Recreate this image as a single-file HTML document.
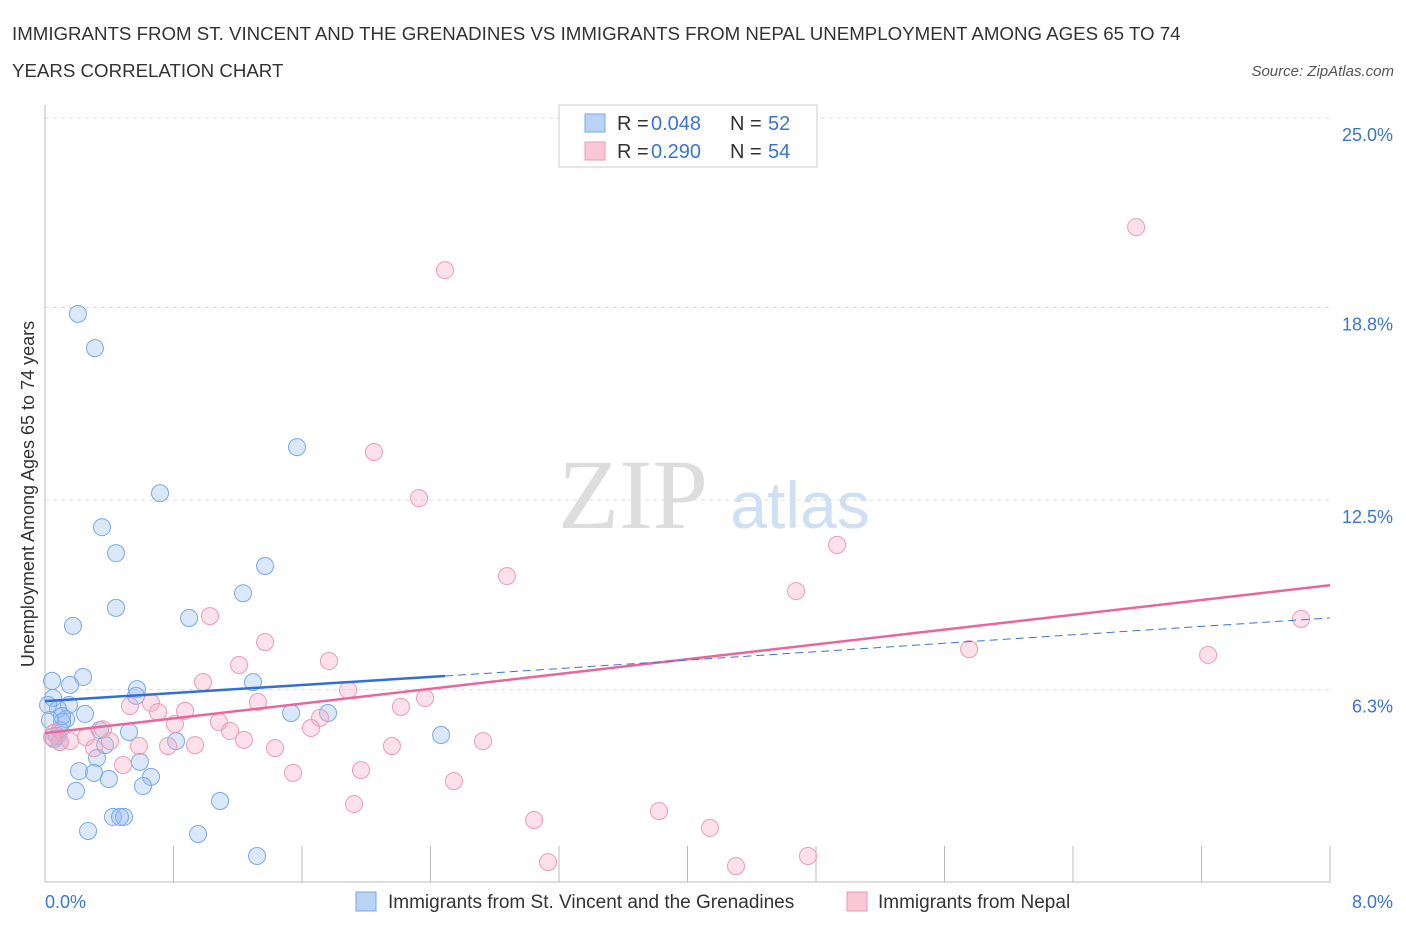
<!DOCTYPE html>
<html><head><meta charset="utf-8"><style>
body{margin:0;background:#fff;font-family:"Liberation Sans",sans-serif;}
</style></head><body>
<svg id="chart" width="1406" height="930" font-family="Liberation Sans, sans-serif">
<text x="12" y="40" font-size="18.7" fill="#333">IMMIGRANTS FROM ST. VINCENT AND THE GRENADINES VS IMMIGRANTS FROM NEPAL UNEMPLOYMENT AMONG AGES 65 TO 74</text>
<text x="12" y="77" font-size="18.7" fill="#333">YEARS CORRELATION CHART</text>
<text x="1394" y="76" font-size="15" fill="#555" font-style="italic" text-anchor="end">Source: ZipAtlas.com</text>
<text x="633" y="528" font-size="100" fill="#ddd" style="font-family:'Liberation Serif',serif" text-anchor="middle">ZIP</text>
<text x="800" y="528" font-size="66" fill="#cfe0f5" text-anchor="middle">atlas</text>
<text transform="translate(34,494) rotate(-90)" font-size="18" fill="#333" text-anchor="middle">Unemployment Among Ages 65 to 74 years</text>
<g id="grid"></g><g id="marks"></g>
<g>
<rect x="559" y="105" width="258" height="62" fill="#fff" stroke="#ccc"/>
<rect x="585" y="114" width="20" height="18" fill="#b9d3f5" stroke="#7aa8e8"/>
<rect x="585" y="142" width="20" height="18" fill="#f9c6d6" stroke="#ee9ab5"/>
<text x="617" y="130" font-size="20" fill="#333">R =</text>
<text x="651" y="130" font-size="20" fill="#3b74d1">0.048</text>
<text x="730" y="130" font-size="20" fill="#333">N =</text>
<text x="768" y="130" font-size="20" fill="#3b74d1">52</text>
<text x="617" y="158" font-size="20" fill="#333">R =</text>
<text x="651" y="158" font-size="20" fill="#3b74d1">0.290</text>
<text x="730" y="158" font-size="20" fill="#333">N =</text>
<text x="768" y="158" font-size="20" fill="#3b74d1">54</text>
</g>
<g>
<rect x="356" y="892" width="20" height="19" fill="#b9d3f5" stroke="#7aa8e8"/>
<text x="388" y="908" font-size="19" fill="#333">Immigrants from St. Vincent and the Grenadines</text>
<rect x="847" y="892" width="20" height="19" fill="#f9c6d6" stroke="#ee9ab5"/>
<text x="878" y="908" font-size="19" fill="#333">Immigrants from Nepal</text>
</g>
</svg>
<script>
const yTicks=[25.0,18.8,12.5,6.3];
const yTickLabels=["25.0%","18.8%","12.5%","6.3%"];
const xTickLabels=["0.0%","8.0%"];
const blueX=[0.205,0.311,1.569,0.716,0.355,0.442,1.370,1.233,0.442,0.897,0.174,0.237,0.044,0.156,0.573,1.295,0.050,0.567,0.149,0.081,0.249,0.131,0.106,1.532,1.762,0.093,0.342,0.523,0.075,0.056,0.093,0.374,0.816,2.466,0.324,0.591,0.212,0.305,0.660,0.398,0.610,0.193,1.090,0.423,0.492,0.467,0.268,0.953,1.320,0.019,0.031,0.106];
const blueY=[18.59,17.47,14.23,12.72,11.61,10.76,10.34,9.45,8.97,8.64,8.38,6.71,6.58,6.45,6.31,6.54,6.02,6.09,5.79,5.66,5.50,5.33,5.24,5.53,5.53,4.97,4.97,4.91,4.78,4.68,4.58,4.48,4.61,4.81,4.06,3.93,3.63,3.57,3.44,3.37,3.14,2.98,2.65,2.13,2.13,2.13,1.67,1.57,0.85,5.79,5.30,5.43];
const pinkX=[6.793,2.490,2.048,2.329,4.931,2.876,4.676,1.027,7.820,1.370,5.753,7.241,1.208,1.768,0.984,1.887,2.366,0.529,0.660,0.704,0.872,1.326,2.216,1.083,0.809,1.712,1.656,0.361,0.056,1.152,0.255,0.093,1.239,0.156,0.305,0.405,0.585,0.766,0.934,1.432,2.160,2.727,0.486,1.544,1.967,2.546,1.924,3.823,3.045,4.140,3.132,4.302,4.750,0.044];
const pinkY=[21.43,20.02,14.07,12.56,11.03,10.01,9.52,8.70,8.61,7.85,7.62,7.43,7.10,7.23,6.54,6.28,6.02,5.76,5.86,5.56,5.60,5.89,5.73,5.24,5.17,5.37,5.04,5.00,4.88,4.94,4.74,4.58,4.65,4.61,4.38,4.61,4.45,4.45,4.48,4.38,4.45,4.61,3.83,3.57,3.66,3.30,2.55,2.32,2.03,1.77,0.65,0.52,0.85,4.74];
const blueTrend=[5.92,6.74,8.64]; // at x=0, 2.49, 8
const pinkTrend=[4.87,9.71]; // at x=0, 8
const X=v=>45+v/8*1285, Y=v=>882-v*30.56;
const NS="http://www.w3.org/2000/svg";
const grid=document.getElementById('grid'), marks=document.getElementById('marks');
function mk(tag,attrs,parent){const e=document.createElementNS(NS,tag);for(const k in attrs)e.setAttribute(k,attrs[k]);parent.appendChild(e);return e;}
yTicks.forEach((t,i)=>{
 const l=mk('line',{x1:45,x2:1330,y1:Y(t),y2:Y(t),stroke:'#ddd','stroke-dasharray':'4,4'},grid);
 
 
 const tx=mk('text',{x:1393,y:Y(t)+23,'font-size':18,fill:'#3b74d1','text-anchor':'end'},grid);
 tx.textContent=yTickLabels[i];
 
 
});
const ax=mk('line',{x1:45,x2:1330,y1:882,y2:882,stroke:'#bbb'},grid);


const ay=mk('line',{x1:45,x2:45,y1:105,y2:882,stroke:'#bbb'},grid);


for(let i=0;i<=10;i++){
 const tk=mk('line',{x1:X(i*0.8),x2:X(i*0.8),y1:846,y2:882,stroke:'#bbb'},grid);
 
 
}
[[0,45,'start'],[1,1393,'end']].forEach(([i,x,a])=>{
 const t=mk('text',{x:x,y:908,'font-size':18,fill:'#3b74d1','text-anchor':a},grid);
 t.textContent=xTickLabels[i];
 
 
});
blueX.forEach((v,i)=>{
 const c=mk('circle',{cx:X(v),cy:Y(blueY[i]),r:8.5,fill:'rgba(150,190,240,0.35)',stroke:'#7aa8e8','stroke-width':1},marks);
 
 
});
pinkX.forEach((v,i)=>{
 const c=mk('circle',{cx:X(v),cy:Y(pinkY[i]),r:8.5,fill:'rgba(245,170,195,0.35)',stroke:'#ee9ab5','stroke-width':1},marks);
 
 
});
const pl=mk('line',{x1:X(0),y1:Y(pinkTrend[0]),x2:X(8),y2:Y(pinkTrend[1]),stroke:'#e8679a','stroke-width':2.5},marks);


const bd=mk('line',{x1:X(2.49),y1:Y(blueTrend[1]),x2:X(8),y2:Y(blueTrend[2]),stroke:'#3b74d1','stroke-width':1,'stroke-dasharray':'8,5'},marks);


const bl=mk('line',{x1:X(0),y1:Y(blueTrend[0]),x2:X(2.49),y2:Y(blueTrend[1]),stroke:'#2f6fd6','stroke-width':2.5},marks);


</script>
</body></html>
